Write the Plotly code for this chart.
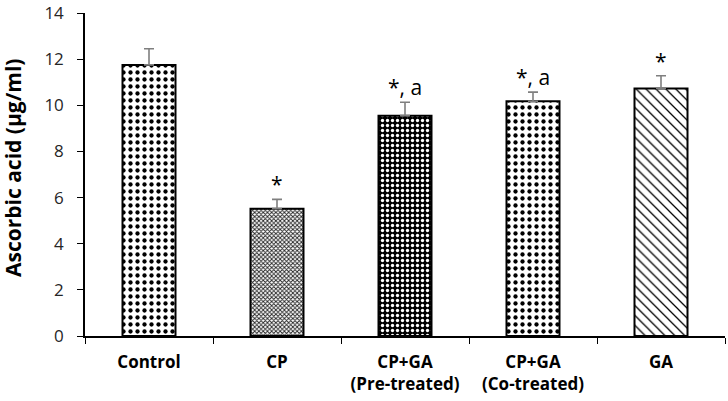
import plotly.graph_objects as go

categories = ["Control", "CP", "CP+GA<br>(Pre-treated)", "CP+GA<br>(Co-treated)", "GA"]
values = [11.75, 5.52, 9.55, 10.17, 10.73]
errors = [0.70, 0.40, 0.58, 0.40, 0.55]
labels = ["", "*", "*, a", "*, a", "*"]
y_ticks = [0, 2, 4, 6, 8, 10, 12, 14]

shapes = [".", "x", ".", ".", "\\"]
fg = ["black", "#222222", "white", "black", "black"]
bg = ["white", "white", "black", "white", "white"]
sizes = [7, 3, 5, 7, 7]
solid = [0.3, 0.5, 0.35, 0.3, 0.18]

FONT = "Open Sans, sans-serif"

fig = go.Figure()
fig.add_trace(go.Bar(
    x=categories, y=values,
    width=0.414,
    marker=dict(
        color="white",
        line=dict(color="black", width=2),
        pattern=dict(shape=shapes, fgcolor=fg, bgcolor=bg, size=sizes,
                     solidity=solid, fillmode="replace"),
    ),
    error_y=dict(type="data", array=errors, arrayminus=[0] * 5, symmetric=False,
                 color="#7f7f7f", thickness=1.6, width=5),
    showlegend=False,
))

for c, v, e, t in zip(categories, values, errors, labels):
    if t:
        fig.add_annotation(x=c, y=v + e, text=t, showarrow=False, yanchor="bottom",
                           yshift=-1, font=dict(family=FONT, size=21, color="black"))

fig.add_annotation(text="<b>Ascorbic acid (μg/ml)</b>", xref="paper", yref="paper",
                   x=0, y=0.52, xshift=-72, textangle=-90, showarrow=False,
                   xanchor="center", yanchor="middle",
                   font=dict(family=FONT, size=21, color="black"))

fig.update_layout(
    width=728, height=401,
    margin=dict(l=85, r=3, t=13, b=65),
    plot_bgcolor="white", paper_bgcolor="white",
    font=dict(family=FONT, color="black"),
    xaxis=dict(
        showline=True, linecolor="black", linewidth=1.5,
        ticks="outside", tickson="boundaries", ticklen=6, tickcolor="black",
        tickfont=dict(size=17, family=FONT, weight="bold", color="black"),
        ticklabelstandoff=10,
        showgrid=False, automargin=False,
    ),
    yaxis=dict(
        range=[0, 14], tickvals=y_ticks, showline=True, linecolor="black", linewidth=1.5,
        ticks="outside", ticklen=6, tickcolor="black", showgrid=False, zeroline=False,
        tickfont=dict(size=17, color="#262626"), ticklabelstandoff=10,
        ticklabeloverflow="allow", automargin=False,
    ),
)

fig.write_html("out.html", config={"displayModeBar": False},
               post_script="document.body.style.margin='0px';")
